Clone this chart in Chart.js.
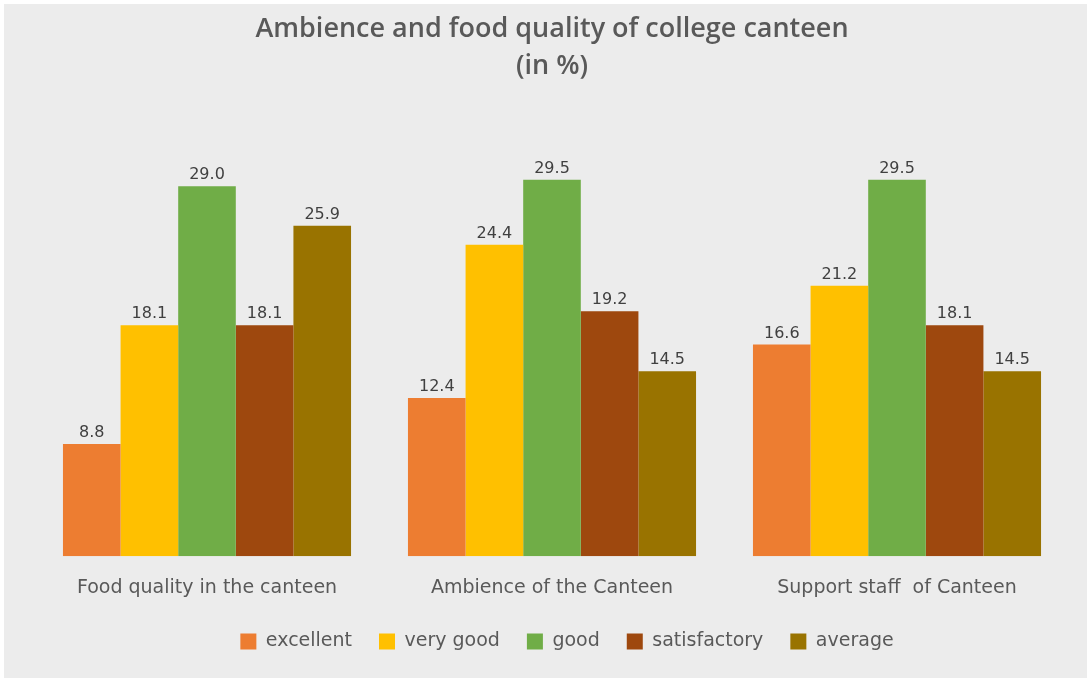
<!DOCTYPE html>
<html>
<head>
<meta charset="utf-8">
<script src="https://cdn.jsdelivr.net/npm/chart.js@4.4.1/dist/chart.umd.min.js"></script>
<style>
  html, body { margin: 0; padding: 0; background: #ffffff; }
  #wrap { position: absolute; left: 4px; top: 4px; width: 1083px; height: 674px; background: #ececec; }
</style>
</head>
<body>
<div id="wrap"><canvas id="chart" width="1083" height="674"></canvas></div>
<script>
// categories and series values
const categories = ['Food quality in the canteen', 'Ambience of the Canteen', 'Support staff  of Canteen'];
const excellent = [8.8, 12.4, 16.6];
const veryGood = [18.1, 24.4, 21.2];
const good = [29.0, 29.5, 29.5];
const satisfactory = [18.1, 19.2, 18.1];
const average = [25.9, 14.5, 14.5];

const seriesNames = ['excellent', 'very good', 'good', 'satisfactory', 'average'];
const seriesData = [excellent, veryGood, good, satisfactory, average];
const colors = ['#ed7d31', '#ffc000', '#70ad47', '#9e480e', '#997300'];

const textFont = '"DejaVu Sans", sans-serif';

// draw value labels above each bar
const valueLabels = {
    id: 'valueLabels',
    afterDatasetsDraw(chart) {
        const ctx = chart.ctx;
        ctx.save();
        ctx.font = '16px ' + textFont;
        ctx.fillStyle = '#404040';
        ctx.textAlign = 'center';
        ctx.textBaseline = 'bottom';
        chart.data.datasets.forEach((ds, i) => {
            chart.getDatasetMeta(i).data.forEach((bar, j) => {
                ctx.fillText(ds.data[j].toFixed(1), bar.x, bar.y - 3);
            });
        });
        ctx.restore();
    }
};

// legend in the original sits a bit right of centre
const legendShift = {
    id: 'legendShift',
    afterLayout(chart) {
        chart.legend.left += 15;
        chart.legend.right += 15;
    }
};

new Chart(document.getElementById('chart').getContext('2d'), {
    type: 'bar',
    data: {
        labels: categories,
        datasets: seriesNames.map((name, i) => ({
            label: name,
            data: seriesData[i],
            backgroundColor: colors[i],
            borderWidth: 0,
            categoryPercentage: 0.835,
            barPercentage: 1.0
        }))
    },
    plugins: [valueLabels, legendShift],
    options: {
        responsive: false,
        animation: false,
        layout: {
            padding: { left: 30.5, right: 17.5, top: 0, bottom: 17 }
        },
        plugins: {
            title: {
                display: true,
                text: ['Ambience and food quality of college canteen', '(in %)'],
                color: '#595959',
                font: { family: '"Open Sans", sans-serif', size: 27, weight: '600', lineHeight: 1.4 },
                padding: { top: 6, bottom: 24 }
            },
            legend: {
                position: 'bottom',
                labels: {
                    color: '#595959',
                    font: { family: textFont, size: 19 },
                    boxWidth: 16,
                    boxHeight: 16,
                    padding: 27
                }
            },
            tooltip: { enabled: false }
        },
        scales: {
            x: {
                grid: { display: false },
                border: { display: false },
                ticks: {
                    color: '#595959',
                    font: { family: textFont, size: 19 },
                    padding: 12
                },
                afterFit: (scale) => { scale.height -= 6; }
            },
            y: {
                display: false,
                min: 0,
                max: 35
            }
        }
    }
});
</script>
</body>
</html>
